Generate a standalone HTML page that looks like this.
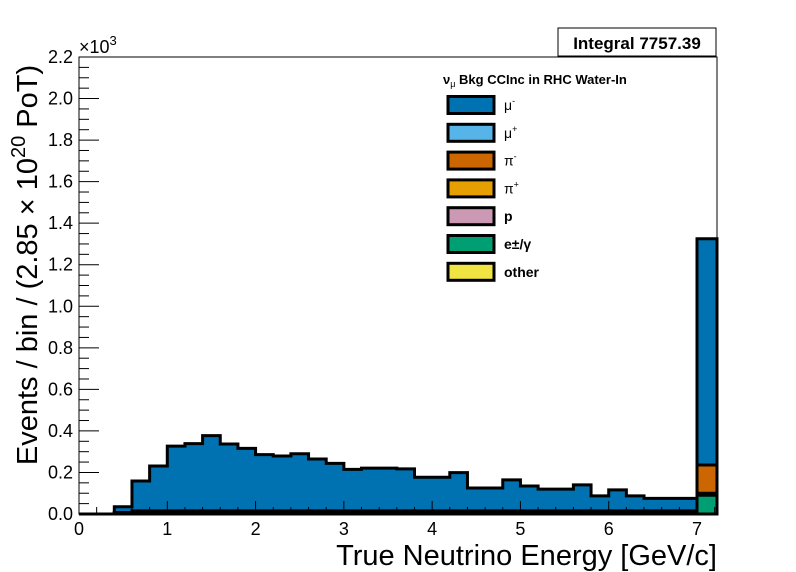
<!DOCTYPE html>
<html><head><meta charset="utf-8"><style>
html,body{margin:0;padding:0;background:#fff;}
svg{display:block;font-family:"Liberation Sans",sans-serif;}
</style></head><body>
<svg id="chart" width="796" height="572" viewBox="0 0 796 572">
<rect width="796" height="572" fill="#fff"/>
<g id="bars"></g>
<g id="axes"></g>
<rect x="558" y="28" width="158" height="28" fill="#fff" stroke="#000" stroke-width="1"/>
<text x="637" y="49" font-size="17" font-weight="bold" text-anchor="middle">Integral 7757.39</text>
<g id="legend"></g>
<text x="717" y="565" font-size="29" text-anchor="end">True Neutrino Energy [GeV/c]</text>
<text transform="translate(37,265) rotate(-90)" font-size="29" text-anchor="middle">Events / bin / (2.85 × 10<tspan dy="-12" font-size="20">20</tspan><tspan dy="12"> PoT)</tspan></text>
<text x="79" y="53" font-size="18">×10<tspan dy="-8" font-size="13">3</tspan></text>
</svg>
<script>
// bin edges in GeV: 35 bins of 0.2 from 0 to 7, plus overflow 7 to 7.23
const binEdges = [0,0.2,0.4,0.6,0.8,1.0,1.2,1.4,1.6,1.8,2.0,2.2,2.4,2.6,2.8,3.0,3.2,3.4,3.6,3.8,4.0,4.2,4.4,4.6,4.8,5.0,5.2,5.4,5.6,5.8,6.0,6.2,6.4,6.6,6.8,7.0,7.23];
const muMinus = [0,0,28,144,216,312,324,362,322,301,271,264,275,250,229,200,206,206,202,162,162,184,110,110,149,120,105,105,125,72,101,72,60,60,60,1089];
const piMinus = [0,0,2,5,5,5,5,5,5,5,5,5,5,5,5,5,5,5,5,5,5,5,5,5,5,5,5,5,5,5,5,5,5,5,5,136];
const pProton = [0,0,0,0,0,0,0,0,0,0,0,0,0,0,0,0,0,0,0,0,0,0,0,0,0,0,0,0,0,0,0,0,0,0,0,10];
const eGamma = [0,0,5,10,10,10,10,10,10,10,10,10,10,10,10,10,10,10,10,10,10,10,10,10,10,10,10,10,10,10,10,10,10,10,10,90];
const yTicks = [0,0.2,0.4,0.6,0.8,1.0,1.2,1.4,1.6,1.8,2.0,2.2];
const xTicks = [0,1,2,3,4,5,6,7];
const legendLabels = ["μ-","μ+","π-","π+","p","e±/γ","other"];
const legendColors = ["#0072b2","#56b4e9","#cc6600","#e69f00","#cc99b4","#009e73","#f0e442"];

const X0=79, X1=717, Y0=514, Y1=57;
const xs = v => X0 + v*(697-79)/7;
const ys = v => Y0 - v*(Y0-Y1)/2200;
const NS="http://www.w3.org/2000/svg";
function mk(tag, attrs, parent){const e=document.createElementNS(NS,tag);for(const k in attrs)e.setAttribute(k,attrs[k]);parent.appendChild(e);return e;}

const bars=document.getElementById('bars');
const n=binEdges.length-1;
const layers=[
  {name:'mu-minus',c:'#0072b2',arr:[eGamma,pProton,piMinus,muMinus]},
  {name:'pi-minus',c:'#cc6600',arr:[eGamma,pProton,piMinus]},
  {name:'proton',c:'#cc99b4',arr:[eGamma,pProton]},
  {name:'e-gamma',c:'#009e73',arr:[eGamma]}
];
layers.forEach(L=>{
  const tot=[];for(let i=0;i<n;i++){let s=0;L.arr.forEach(a=>s+=a[i]);tot.push(s);}
  let d='M'+xs(binEdges[0])+','+ys(0);
  for(let i=0;i<n;i++){d+=' L'+xs(binEdges[i])+','+ys(tot[i])+' L'+Math.min(xs(binEdges[i+1]),X1)+','+ys(tot[i]);}
  d+=' L'+X1+','+ys(0)+' Z';
  const p=mk('path',{d:d,fill:L.c,stroke:'#000','stroke-width':3,'stroke-linejoin':'miter'},bars);
  
  
});

const ax=document.getElementById('axes');
mk('rect',{x:X0,y:Y1,width:X1-X0,height:Y0-Y1,fill:'none',stroke:'#000','stroke-width':1},ax);
for(let v=0;v<=2200.1;v+=50){
  const major=Math.abs(v/200-Math.round(v/200))<1e-6;
  mk('line',{x1:X0,x2:X0+(major?20:10),y1:ys(v),y2:ys(v),stroke:'#000','stroke-width':1},ax);
}
yTicks.forEach(t=>{
  const e=mk('text',{x:73,y:ys(t*1000)+6,'font-size':18,'text-anchor':'end'},ax);
  e.textContent=t.toFixed(1);
  
  
});
for(let v=0;v<=7.21;v+=0.2){
  const major=Math.abs(v-Math.round(v))<1e-6;
  mk('line',{x1:xs(v),x2:xs(v),y1:Y0,y2:Y0-(major?13:7),stroke:'#000','stroke-width':1},ax);
}
xTicks.forEach(t=>{
  const e=mk('text',{x:xs(t),y:535,'font-size':18,'text-anchor':'middle'},ax);
  e.textContent=t;
  
  
});

const lg=document.getElementById('legend');
const tt=mk('text',{x:443,y:84,'font-size':13,'font-weight':'bold'},lg);
tt.innerHTML='ν<tspan dy="3" font-size="9" font-weight="normal">μ</tspan><tspan dy="-3"> Bkg CCInc in RHC Water-In</tspan>';


legendLabels.forEach((lab,i)=>{
  const cy=105+i*27.8;
  const r=mk('rect',{x:448,y:cy-8.5,width:46,height:17,fill:legendColors[i],stroke:'#000','stroke-width':3},lg);
  
  
  const t=mk('text',{x:504,y:cy+5,'font-size':14,'font-weight':'bold'},lg);
  const base=lab.replace(/[-+]$/,''), sup=lab.match(/[-+]$/);
  if(sup){t.innerHTML=base+'<tspan dy="-6" font-size="9">'+(sup[0]=='-'?'-':'+')+'</tspan>';t.setAttribute('font-weight','normal');}
  else t.textContent=lab;
  
  
});
</script>
</body></html>
